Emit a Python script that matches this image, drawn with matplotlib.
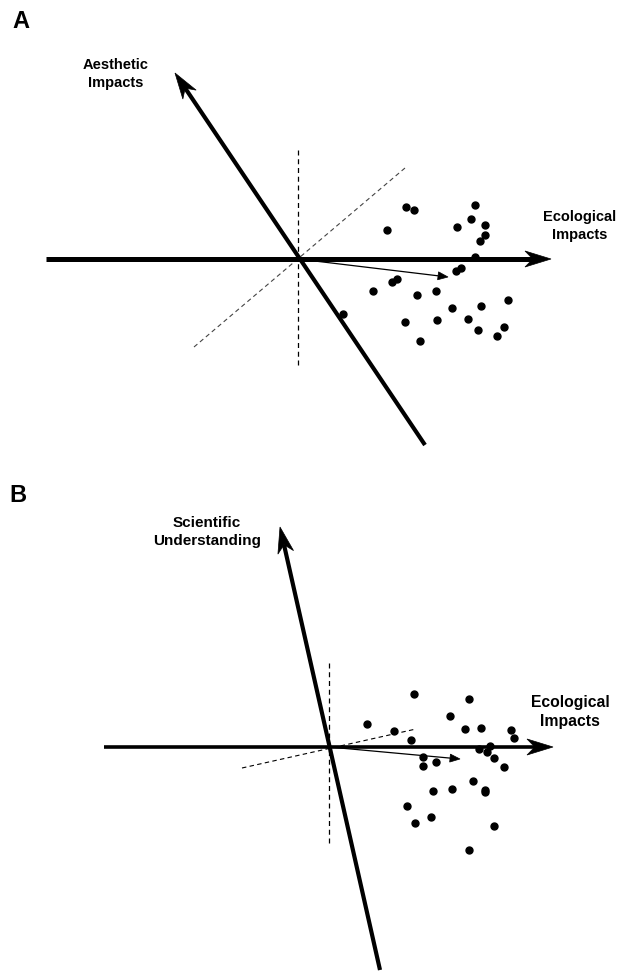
import numpy as np
import matplotlib
matplotlib.use('Agg')
import matplotlib.pyplot as plt
from matplotlib.patches import Polygon

plt.rcParams['font.family'] = ['Liberation Sans', 'DejaVu Sans']

# Panel A: scores (ecological, aesthetic), 1 unit = 10 px
a_x = [10.8, 11.6, 17.7, 17.3, 15.9, 18.7, 8.9, 18.7, 18.2, 17.7, 15.8, 16.3, 9.4, 9.9,
       7.5, 11.9, 13.8, 15.4, 18.3, 21.0, 4.5, 10.7, 13.9, 17.0, 18.0, 20.6, 19.9, 12.2]
a_y = [5.2, 4.9, 5.4, 4.0, 3.2, 3.4, 2.9, 2.4, 1.8, 0.2, -1.2, -0.9, -2.3, -2.0,
       -3.2, -3.6, -3.2, -4.9, -4.7, -4.1, -5.5, -6.3, -6.1, -6.0, -7.1, -6.8, -7.7, -8.2]
a_axis2 = [(-12.3, 18.6), (12.7, -18.6)]     # aesthetic axis (tip, tail)
a_diag = [(-10.4, -8.8), (10.7, 9.1)]        # dashed diagonal
a_mean = (15.0, -1.8)                        # thin arrow (mean vector)

# Panel B: scores (ecological, scientific)
b_x = [8.5, 14.0, 12.1, 3.8, 6.5, 13.6, 15.2, 18.2, 8.2, 18.5, 15.0, 16.1, 15.8, 16.5,
       9.4, 9.4, 10.7, 17.5, 14.4, 10.4, 12.3, 15.6, 15.6, 7.8, 10.2, 8.6, 16.5, 14.0]
b_y = [5.3, 4.8, 3.1, 2.3, 1.6, 1.8, 1.9, 1.7, 0.7, 0.9, -0.2, 0.1, -0.5, -1.1,
       -1.0, -1.9, -1.5, -2.0, -3.4, -4.4, -4.2, -4.3, -4.5, -5.9, -7.0, -7.6, -7.9, -10.3]
b_axis2 = [(-4.9, 22.0), (5.1, -22.3)]
b_diag = [(-8.7, -2.1), (8.7, 1.8)]
b_mean = (13.1, -1.2)


def arrow(ax, start, tip, lw, hl, hw, notch=0.7):
    s = np.array(start, float)
    t = np.array(tip, float)
    u = (t - s) / np.linalg.norm(t - s)
    n = np.array([-u[1], u[0]])
    back = t - notch * hl * u
    ax.plot([s[0], back[0]], [s[1], back[1]], color='black', lw=lw,
            solid_capstyle='butt', zorder=3)
    head = [t, t - hl * u + hw * n, back, t - hl * u - hw * n]
    ax.add_patch(Polygon(head, closed=True, facecolor='black', edgecolor='black',
                         lw=0.5, zorder=4))


def panel(ax, xs, ys, axis2, diag, mean, h_ext, vdash, lw_h, lw_2, dcol):
    ax.set_aspect('equal')
    ax.axis('off')
    # ecological axis
    arrow(ax, (h_ext[0], 0), (h_ext[1], 0), lw_h, 2.6, 0.8)
    # second axis
    arrow(ax, axis2[1], axis2[0], lw_2, 2.6, 0.8)
    ax.plot([0, 0], vdash, color='black', lw=0.9, ls=(0, (4, 3)), zorder=2)
    ax.plot([diag[0][0], diag[1][0]], [diag[0][1], diag[1][1]], color=dcol,
            lw=0.8, ls=(0, (4, 3)), zorder=2)
    arrow(ax, (0, 0), mean, 0.9, 1.0, 0.4, notch=1.0)
    ax.plot(xs, ys, 'o', color='black', ms=5, zorder=5)


fig = plt.figure(figsize=(6.18, 9.74), dpi=100)
h_a = 470 / 974
ax_a = fig.add_axes([0, 1 - h_a, 1, h_a])
ax_b = fig.add_axes([0, 0, 1, 1 - h_a])

ax_a.set_xlim(-29.8, 32.0)
ax_a.set_ylim(-21.1, 25.9)
ax_b.set_xlim(-32.9, 28.9)
ax_b.set_ylim(-22.7, 27.7)

panel(ax_a, a_x, a_y, a_axis2, a_diag, a_mean, (-25.2, 25.3), (10.9, -10.7), 3.6, 3.0, '#444444')
panel(ax_b, b_x, b_y, b_axis2, b_diag, b_mean, (-22.5, 22.4), (8.4, -9.6), 2.6, 3.0, 'black')

lab = dict(fontweight='bold', ha='center', va='center', linespacing=1.35)
ax_a.text(-27.7, 23.7, 'A', fontsize=17, **lab)
ax_a.text(-18.2, 18.5, 'Aesthetic\nImpacts', fontsize=10.5, **lab)
ax_a.text(28.2, 3.3, 'Ecological\nImpacts', fontsize=10.5, **lab)
ax_b.text(-31.1, 25.1, 'B', fontsize=17, **lab)
ax_b.text(-12.2, 21.5, 'Scientific\nUnderstanding', fontsize=11, **lab)
ax_b.text(24.1, 3.5, 'Ecological\nImpacts', fontsize=11.3, **lab)

fig.savefig('out.png', dpi=100)
